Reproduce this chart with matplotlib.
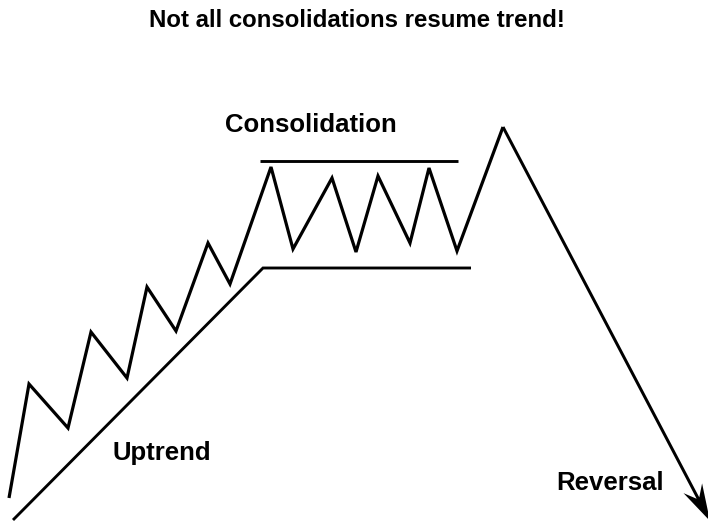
import matplotlib
matplotlib.use("Agg")
import matplotlib.pyplot as plt

plt.rcParams['font.family'] = ['Liberation Sans', 'DejaVu Sans']

# Diagram coordinates (pixel-like units, y grows downward)
zig_x = [9, 29, 68, 91, 127, 147, 176, 208, 230, 271, 293, 332, 356, 378, 410, 429, 457, 503]
zig_y = [498, 384, 428, 332, 378, 287, 331, 243, 284, 167, 249, 178, 252, 176, 243, 168, 251, 127]
trend_x = [13, 263, 471]
trend_y = [520, 268, 268]
resist_x = [260, 458]
resist_y = [161, 161]
arrow_start = (503, 127)
arrow_end = (710, 521)

title = "Not all consolidations resume trend!"
labels = ["Consolidation", "Uptrend", "Reversal"]
label_x = [311, 162, 610]
label_y = [132, 460, 490]

fig = plt.figure(figsize=(7.08, 5.21), dpi=100)
ax = fig.add_axes([0, 0, 1, 1])
ax.set_xlim(0, 708)
ax.set_ylim(521, 0)
ax.axis('off')

lw = 2.3
ax.plot(zig_x, zig_y, color='black', lw=lw, solid_joinstyle='miter', solid_capstyle='butt')
ax.plot(trend_x, trend_y, color='black', lw=lw * 0.9, solid_joinstyle='miter', solid_capstyle='butt')
ax.plot(resist_x, resist_y, color='black', lw=lw * 0.9, solid_capstyle='butt')

ax.arrow(arrow_start[0], arrow_start[1],
         arrow_end[0] - arrow_start[0], arrow_end[1] - arrow_start[1],
         width=3.0, head_width=21, head_length=37, overhang=0.3,
         length_includes_head=True, color='black', lw=0, clip_on=False)

ax.text(357, 27, title, ha='center', va='baseline', fontsize=17.3, fontweight='bold')
for t, x, y in zip(labels, label_x, label_y):
    ax.text(x, y, t, ha='center', va='baseline', fontsize=18.5, fontweight='bold')

fig.savefig('out.png', dpi=100)
